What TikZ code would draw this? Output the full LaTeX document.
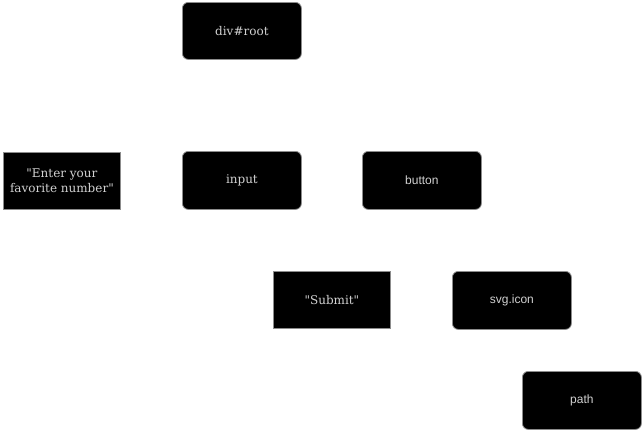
\documentclass[tikz,border=0pt]{standalone}
\usepackage{fontspec}
\setmainfont{DejaVu Serif}[Ligatures=TeXOff]
\setsansfont{Liberation Sans}[Ligatures=TeXOff]
\begin{document}
\begin{tikzpicture}[x=1pt,y=-1pt,
  box/.style={draw=black!45, line width=0.8pt, fill=black, text=black!18, anchor=north west, inner sep=0pt, font=\fontsize{12}{15}\selectfont, align=center},
  elem/.style={box, rounded corners=6pt},
  txt/.style={box},
  sanselem/.style={elem, font=\sffamily\fontsize{12}{15}\selectfont}]
\useasboundingbox (0,0) rectangle (642,431);
\node[elem, minimum width=119pt, minimum height=57pt] (root) at (182,2) {div\#root};
\node[txt, minimum width=117pt, minimum height=57pt] (enter) at (3,152) {"Enter your\\favorite number"};
\node[elem, minimum width=119pt, minimum height=58pt] (input) at (182,151) {input};
\node[sanselem, minimum width=119pt, minimum height=58pt] (button) at (362,151) {button};
\node[txt, minimum width=117pt, minimum height=57pt] (submit) at (273,271) {"Submit"};
\node[sanselem, minimum width=119pt, minimum height=58pt] (svg) at (452,271) {svg.icon};
\node[sanselem, minimum width=119pt, minimum height=58pt] (path) at (522,371) {path};
\end{tikzpicture}
\end{document}
